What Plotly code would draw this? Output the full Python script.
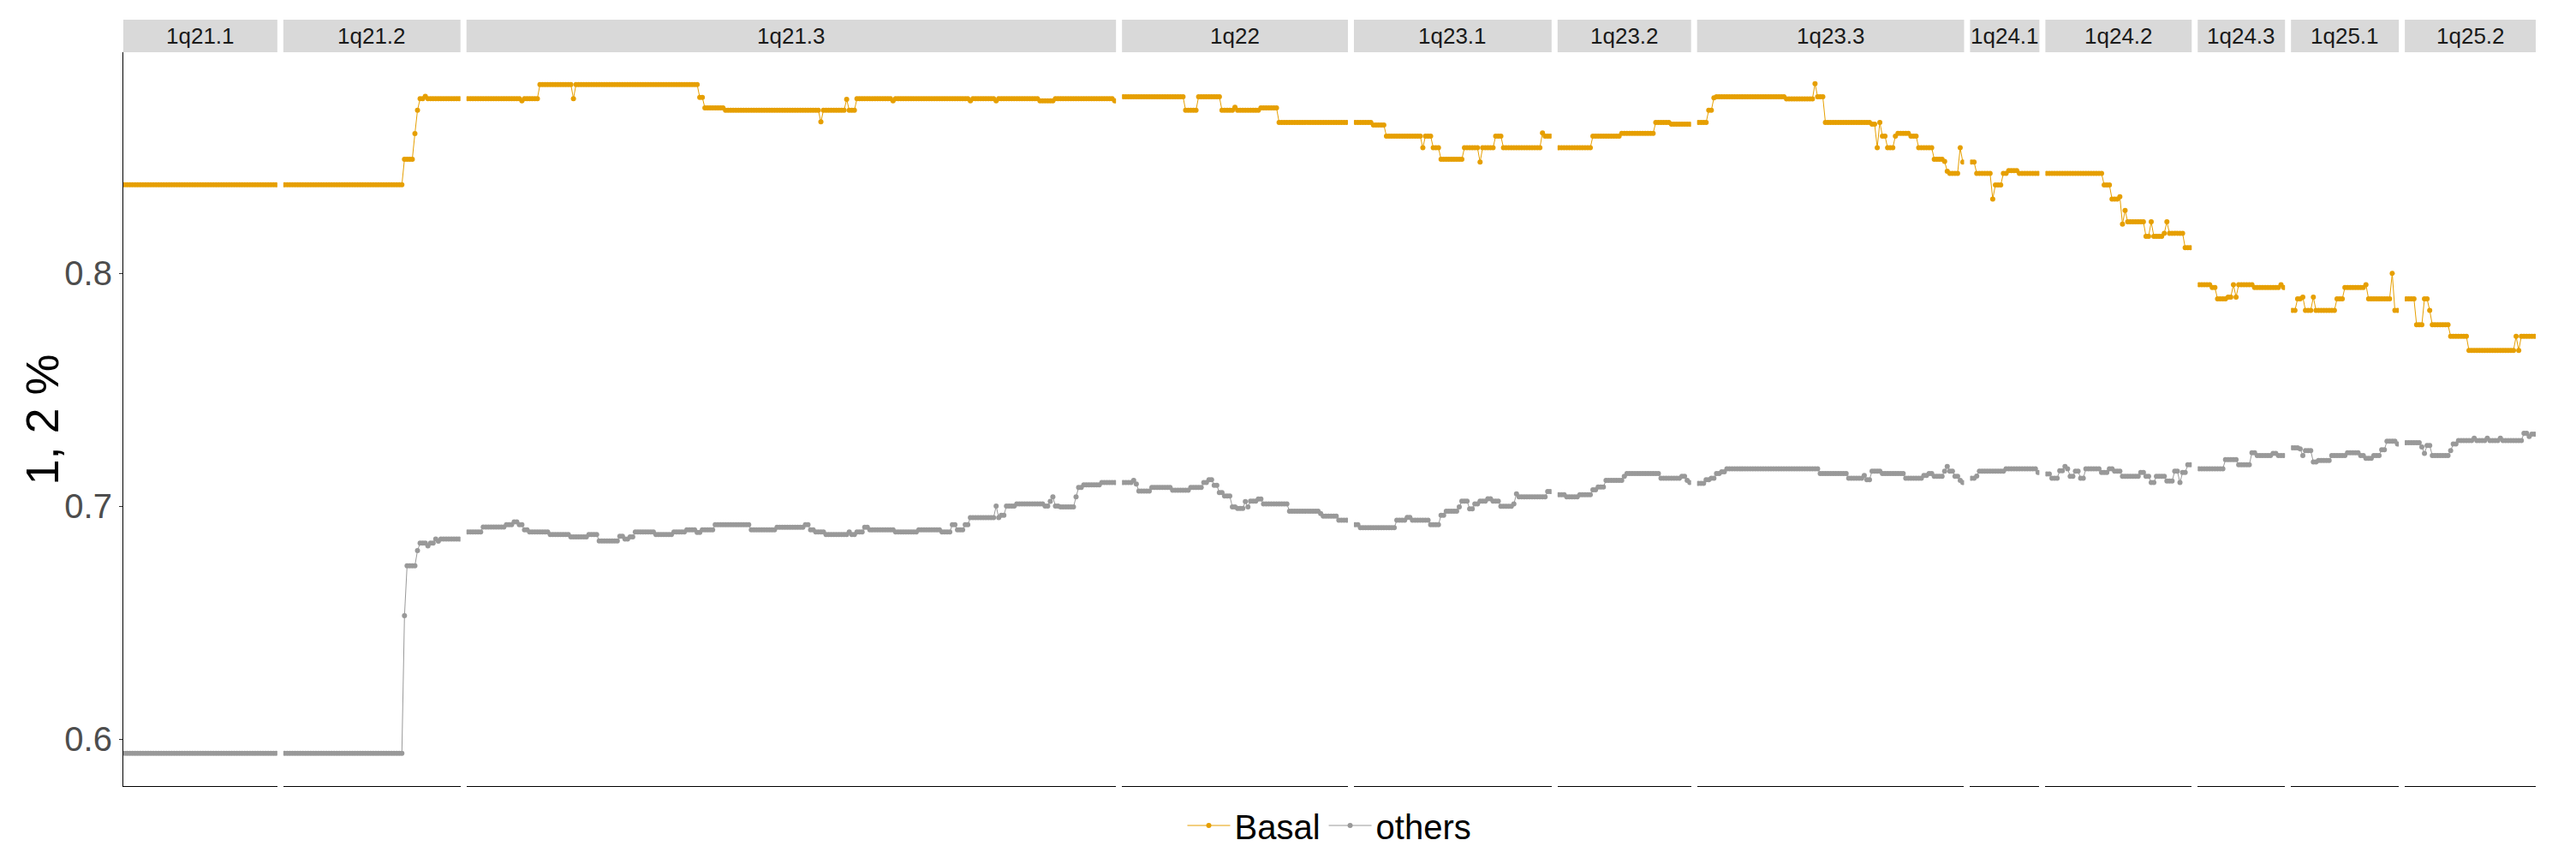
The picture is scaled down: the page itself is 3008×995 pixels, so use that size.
import numpy as np
import plotly.graph_objects as go

# cytoband facets, left to right
BANDS = ["1q21.1", "1q21.2", "1q21.3", "1q22", "1q23.1", "1q23.2",
         "1q23.3", "1q24.1", "1q24.2", "1q24.3", "1q25.1", "1q25.2"]

# [value, number of consecutive points] per band
BASAL_RUNS = [
    [[0.838, 59]],
    [[0.838, 46], [0.849, 4], [0.860, 1], [0.870, 1], [0.875, 2], [0.876, 1], [0.875, 13]],
    [[0.875, 21], [0.874, 1], [0.875, 6], [0.881, 13], [0.875, 1], [0.881, 48], [0.8755, 2],
     [0.871, 8], [0.870, 37], [0.865, 1], [0.870, 9], [0.8747, 1], [0.870, 3], [0.875, 14],
     [0.874, 1], [0.875, 29], [0.874, 1], [0.875, 9], [0.874, 1], [0.875, 16], [0.874, 6],
     [0.875, 23], [0.874, 1]],
    [[0.8758, 24], [0.870, 5], [0.8758, 9], [0.870, 5], [0.8713, 1], [0.870, 9], [0.871, 7],
     [0.8648, 27]],
    [[0.8648, 7], [0.8637, 5], [0.8589, 14], [0.8539, 1], [0.8589, 3], [0.8539, 3], [0.849, 9],
     [0.8539, 6], [0.8478, 1], [0.8539, 5], [0.8589, 3], [0.8539, 15], [0.8603, 1], [0.8589, 3]],
    [[0.8539, 13], [0.8589, 11], [0.8601, 13], [0.8648, 6], [0.864, 8]],
    [[0.8648, 4], [0.870, 2], [0.8753, 1], [0.8758, 27], [0.8749, 11], [0.8814, 1], [0.8758, 3],
     [0.8648, 18], [0.864, 2], [0.8539, 1], [0.8648, 1], [0.8589, 2], [0.8539, 3], [0.8589, 1],
     [0.8601, 5], [0.8589, 3], [0.8539, 6], [0.849, 4], [0.848, 1], [0.8438, 1], [0.8429, 4],
     [0.8539, 1], [0.8478, 1]],
    [[0.8478, 2], [0.8429, 6], [0.8319, 1], [0.8379, 3], [0.8429, 2], [0.8441, 4], [0.8429, 8]],
    [[0.8429, 22], [0.8379, 3], [0.8319, 3], [0.8329, 1], [0.8211, 1], [0.827, 1], [0.8221, 7],
     [0.8159, 2], [0.8221, 1], [0.8159, 4], [0.8172, 1], [0.8221, 1], [0.8172, 6], [0.811, 3]],
    [[0.7951, 5], [0.7939, 2], [0.789, 4], [0.7898, 2], [0.7951, 1], [0.7898, 1], [0.7951, 6],
     [0.7939, 10], [0.7951, 1], [0.7939, 1]],
    [[0.7841, 2], [0.789, 2], [0.7898, 1], [0.7841, 3], [0.7898, 1], [0.7841, 8], [0.789, 3],
     [0.7939, 8], [0.7951, 1], [0.789, 9], [0.800, 1], [0.7841, 2]],
    [[0.789, 4], [0.7779, 3], [0.789, 2], [0.7841, 1], [0.7779, 7], [0.773, 7], [0.7669, 18],
     [0.773, 1], [0.7669, 1], [0.773, 6]],
]

OTHERS_RUNS = [
    [[0.594, 59]],
    [[0.594, 46], [0.653, 1], [0.6745, 4], [0.681, 1], [0.6842, 3], [0.683, 1], [0.6842, 2],
     [0.6859, 1], [0.685, 1], [0.6859, 8]],
    [[0.689, 6], [0.6911, 9], [0.6921, 3], [0.6933, 2], [0.6921, 2], [0.6899, 2], [0.689, 8],
     [0.6879, 8], [0.6869, 7], [0.6879, 4], [0.6851, 8], [0.6871, 2], [0.6859, 2], [0.6869, 2],
     [0.689, 8], [0.6879, 7], [0.689, 5], [0.6899, 4], [0.6888, 2], [0.6899, 5], [0.6921, 14],
     [0.6899, 10], [0.691, 11], [0.6921, 2], [0.6899, 2], [0.689, 4], [0.6879, 9], [0.689, 1],
     [0.6879, 2], [0.689, 3], [0.691, 2], [0.6899, 10], [0.689, 9], [0.6899, 9], [0.689, 4],
     [0.6921, 2], [0.6899, 3], [0.6921, 2], [0.6951, 10], [0.7001, 1], [0.6951, 1], [0.6961, 2],
     [0.7001, 4], [0.701, 11], [0.7001, 2], [0.7021, 1], [0.704, 1], [0.7001, 2], [0.6997, 6],
     [0.704, 1], [0.7081, 2], [0.7092, 7], [0.7102, 6]],
    [[0.7102, 4], [0.7111, 1], [0.7096, 1], [0.7065, 5], [0.7081, 8], [0.7069, 7], [0.7081, 5],
     [0.7102, 2], [0.7114, 2], [0.709, 2], [0.7059, 2], [0.7044, 3], [0.6997, 2], [0.6991, 3],
     [0.702, 1], [0.6997, 1], [0.7022, 3], [0.7031, 2], [0.701, 10], [0.6979, 12], [0.6969, 1],
     [0.6958, 6], [0.694, 4]],
    [[0.6921, 2], [0.6908, 14], [0.694, 4], [0.6952, 2], [0.694, 7], [0.6921, 4], [0.6961, 2],
     [0.6979, 5], [0.6997, 1], [0.7022, 3], [0.6989, 2], [0.701, 2], [0.7022, 3], [0.7032, 2],
     [0.7022, 3], [0.700, 5], [0.701, 1], [0.7053, 1], [0.704, 11], [0.7063, 2]],
    [[0.705, 3], [0.704, 5], [0.705, 5], [0.7071, 2], [0.7083, 3], [0.7111, 7], [0.7129, 1],
     [0.7141, 13], [0.712, 8], [0.7129, 2], [0.7111, 1], [0.7102, 1]],
    [[0.7098, 3], [0.7114, 2], [0.712, 2], [0.7141, 2], [0.7148, 2], [0.7161, 36], [0.7141, 11],
     [0.712, 6], [0.7132, 1], [0.7114, 2], [0.7151, 4], [0.7141, 9], [0.712, 7], [0.7132, 2],
     [0.7141, 2], [0.7129, 4], [0.7151, 1], [0.7171, 1], [0.7151, 2], [0.7129, 2], [0.7111, 1],
     [0.7102, 1]],
    [[0.712, 2], [0.713, 1], [0.7151, 10], [0.7161, 12], [0.7145, 1]],
    [[0.7139, 2], [0.712, 3], [0.7153, 2], [0.7171, 1], [0.7161, 1], [0.7129, 2], [0.7151, 2],
     [0.712, 2], [0.7161, 6], [0.7145, 3], [0.7161, 2], [0.7151, 3], [0.7129, 7], [0.7145, 2],
     [0.7129, 2], [0.7102, 2], [0.7129, 4], [0.7108, 3], [0.7151, 2], [0.7102, 1], [0.7145, 2],
     [0.7178, 2]],
    [[0.7161, 10], [0.72, 5], [0.7178, 5], [0.723, 2], [0.7218, 6], [0.7227, 2], [0.7218, 3]],
    [[0.7251, 3], [0.7246, 1], [0.7218, 1], [0.7239, 3], [0.719, 2], [0.7197, 5], [0.7218, 6],
     [0.723, 5], [0.7218, 2], [0.7206, 3], [0.7218, 3], [0.7243, 2], [0.7279, 4], [0.7267, 1]],
    [[0.7273, 6], [0.7255, 1], [0.7227, 1], [0.7261, 2], [0.7218, 7], [0.7239, 1], [0.7267, 2],
     [0.7282, 6], [0.7292, 1], [0.7282, 4], [0.7292, 1], [0.7282, 4], [0.7292, 1], [0.7282, 8],
     [0.7313, 2], [0.73, 1], [0.731, 2]],
]

Y_TICKS = [0.6, 0.7, 0.8]
Y_RANGE = [0.5799, 0.8949]

BASAL_COLOR = "#E69F00"
OTHERS_COLOR = "#999999"
FONT = "Liberation Sans, Arial, sans-serif"

# the page body adds an 8px margin, so the figure is a bit smaller than the window
BODY_PAD = 8
W, H = 3008 - 2 * BODY_PAD, 995 - 2 * BODY_PAD
M_L, M_T = 144 - BODY_PAD, 61 - BODY_PAD
M_R = W - (2961 - BODY_PAD)
M_B = H - (918 - BODY_PAD)
GAP_PX = 7
STRIP_PX = 38
plot_w = W - M_L - M_R
plot_h = H - M_T - M_B


def expand(runs):
    # run-length pairs -> one value per point
    return np.repeat([v for v, _ in runs], [n for _, n in runs])


n_pts = [sum(n for _, n in runs) for runs in BASAL_RUNS]
units = [n + 1 for n in n_pts]
gap = GAP_PX / plot_w
scale = (1 - gap * (len(BANDS) - 1)) / sum(units)

fig = go.Figure()
layout_axes = {}
shapes = []
annotations = []

x0 = 0.0
for i, band in enumerate(BANDS):
    suffix = "" if i == 0 else str(i + 1)
    xref = "x" + suffix
    dom = [x0, min(1.0, x0 + units[i] * scale)]
    x0 = dom[1] + gap
    xs = np.arange(1, n_pts[i] + 1)

    for name, runs, color in (("others", OTHERS_RUNS, OTHERS_COLOR),
                              ("Basal", BASAL_RUNS, BASAL_COLOR)):
        fig.add_trace(go.Scatter(
            x=xs, y=expand(runs[i]),
            mode="lines+markers",
            name=name, legendgroup=name,
            showlegend=(i == 0),
            line=dict(color=color, width=1),
            marker=dict(color=color, size=6),
            xaxis=xref, yaxis="y",
        ))

    layout_axes["xaxis" + suffix] = dict(
        domain=dom, range=[0.5, n_pts[i] + 0.5], anchor="y",
        showline=True, linecolor="black", linewidth=1.2,
        showticklabels=False, ticks="", showgrid=False, zeroline=False,
    )

    # facet strip
    shapes.append(dict(
        type="rect", xref=xref + " domain", yref="paper",
        x0=0, x1=1, y0=1, y1=1 + STRIP_PX / plot_h,
        fillcolor="#D9D9D9", line=dict(width=0), layer="below",
    ))
    annotations.append(dict(
        text=band, xref=xref + " domain", yref="paper",
        x=0.5, y=1 + STRIP_PX / 2 / plot_h, showarrow=False,
        xanchor="center", yanchor="middle",
        font=dict(size=26, color="#1A1A1A", family=FONT),
    ))

annotations.append(dict(
    text="1, 2 %", xref="paper", yref="paper",
    x=-96 / plot_w, y=0.5, textangle=-90, showarrow=False,
    xanchor="center", yanchor="middle",
    font=dict(size=54, color="black", family=FONT),
))

fig.update_layout(
    width=W, height=H,
    margin=dict(l=M_L, r=M_R, t=M_T, b=M_B, autoexpand=False),
    paper_bgcolor="white", plot_bgcolor="white",
    font=dict(family=FONT),
    yaxis=dict(
        range=Y_RANGE, tickvals=Y_TICKS, ticktext=[f"{v:.1f}" for v in Y_TICKS],
        ticks="outside", ticklen=4, tickcolor="#333333",
        tickfont=dict(size=40, color="#4D4D4D"),
        showline=True, linecolor="black", linewidth=1.2,
        showgrid=False, zeroline=False, anchor="x",
    ),
    legend=dict(
        orientation="h", x=0.5, xanchor="center",
        y=-46 / plot_h, yanchor="middle",
        font=dict(size=40, color="black"), traceorder="reversed",
        itemwidth=50,
    ),
    shapes=shapes,
    annotations=annotations,
    showlegend=True,
    **layout_axes,
)

fig.write_html("out.html")
